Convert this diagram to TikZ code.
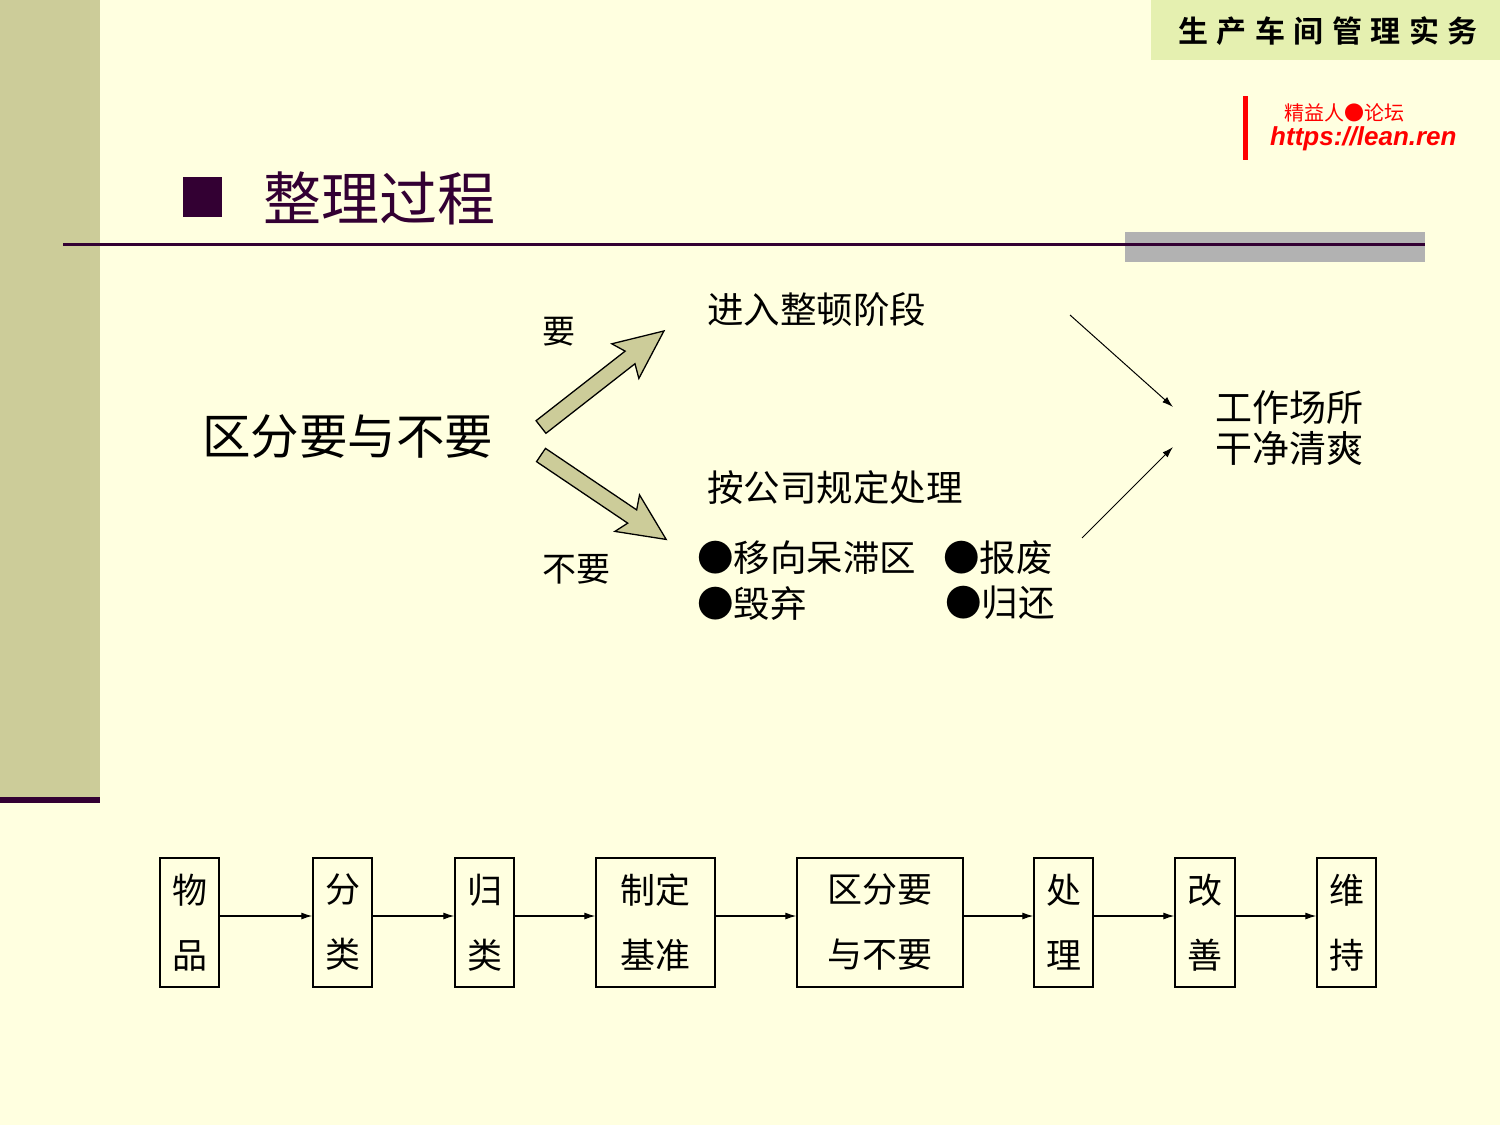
\documentclass[tikz,border=0pt]{standalone}
\usepackage{fontspec}
\newfontfamily\cjk{Noto Sans CJK SC}
\newfontfamily\cjkb{Noto Sans CJK SC Bold}
\newfontfamily\lsans{Liberation Sans}
\usetikzlibrary{arrows.meta}
\definecolor{bg}{RGB}{255,255,224}
\definecolor{khaki}{RGB}{204,204,153}
\definecolor{dpurple}{RGB}{51,0,51}
\definecolor{topbox}{RGB}{229,240,176}
\definecolor{grayb}{RGB}{178,178,178}
\tikzset{
 fs/.style={font=\cjk\fontsize{#1}{#1}\selectfont},
 txt/.style={inner sep=0pt, anchor=west},
 blk/.style={draw=black, line width=1.3pt, fill=khaki},
 thin/.style={-{Latex[length=11pt,width=7pt]}, line width=1pt},
 box/.style={draw=black, line width=1.3pt, fill=bg, minimum height=129pt, inner sep=0pt, align=center},
 flow/.style={-{Latex[length=11pt,width=7pt]}, line width=1.2pt}
}
\begin{document}
\begin{tikzpicture}[x=1pt,y=-1pt]
\fill[bg] (0,0) rectangle (1500,1125);
\useasboundingbox (0,0) rectangle (1500,1125);
\fill[khaki] (0,0) rectangle (100,800);
\fill[dpurple] (0,797) rectangle (100,803);
\fill[topbox] (1151,0) rectangle (1500,60);
\node[txt, font=\cjkb\fontsize{30}{30}\selectfont] (hdr) at (1178,31) {生\hspace{8.5pt}产\hspace{8.5pt}车\hspace{8.5pt}间\hspace{8.5pt}管\hspace{8.5pt}理\hspace{8.5pt}实\hspace{8.5pt}务};
\fill[red] (1243,96) rectangle (1248,160);
\node[txt, fs=20, text=red] (site1) at (1284,113) {精益人●论坛};
\node[txt, text=red, font=\lsans\bfseries\itshape\fontsize{26}{26}\selectfont] (site2) at (1270,139) {https://lean.ren};
\fill[dpurple] (183,177) rectangle (222,217);
\node[txt, fs=58, text=dpurple] (title) at (263,198) {整理过程};
\fill[grayb] (1125,232) rectangle (1425,262);
\draw[dpurple, line width=3pt] (63,244) -- (1425,244);
\node[txt, fs=48.5] (main) at (202,437) {区分要与不要};
\node[txt, fs=33] (yao) at (542,332) {要};
\node[txt, fs=34] (buyao) at (542,569) {不要};
\begin{scope}[shift={(541,427)}, rotate=38]
\draw[blk] (0pt,-8pt)--(113pt,-8pt)--(107pt,-22pt)--(156pt,0pt)--(107pt,22pt)--(113pt,8pt)--(0pt,8pt)--cycle;
\end{scope}
\begin{scope}[shift={(541,455)}, rotate=-34]
\draw[blk] (0pt,-8pt)--(110pt,-8pt)--(104pt,-22pt)--(151pt,0pt)--(104pt,22pt)--(110pt,8pt)--(0pt,8pt)--cycle;
\end{scope}
\node[txt, fs=36.5] (enter) at (707,310) {进入整顿阶段};
\node[txt, fs=36.5] (proc) at (707,488) {按公司规定处理};
\node[txt, fs=36.5] (b1) at (697,558) {●移向呆滞区};
\node[txt, fs=36.5] (b2) at (943,558) {●报废};
\node[txt, fs=36.5] (b3) at (697,603) {●毁弃};
\node[txt, fs=36.5] (b4) at (945,603) {●归还};
\node[txt, fs=37, align=left] (clean) at (1215,428) {工作场所\\[4pt]干净清爽};
\coordinate (a1) at (1070,315); \coordinate (a2) at (1173,407);
\coordinate (c1) at (1082,538); \coordinate (c2) at (1173,447);
\draw[thin] (a1) -- (a2);
\draw[thin] (c1) -- (c2);
\tikzset{bt/.style={fs=35, box}}
\node[bt, minimum width=59pt] (n1) at (189.5,922.5) {物\\[30pt]品};
\node[bt, minimum width=59pt] (n2) at (342.5,922.5) {分\\[30pt]类};
\node[bt, minimum width=59pt] (n3) at (484.5,922.5) {归\\[30pt]类};
\node[bt, minimum width=119pt] (n4) at (655.5,922.5) {制定\\[30pt]基准};
\node[bt, minimum width=166pt] (n5) at (880,922.5) {区分要\\[30pt]与不要};
\node[bt, minimum width=59pt] (n6) at (1063.5,922.5) {处\\[30pt]理};
\node[bt, minimum width=60pt] (n7) at (1205,922.5) {改\\[30pt]善};
\node[bt, minimum width=59pt] (n8) at (1346.5,922.5) {维\\[30pt]持};
\foreach \a/\b in {n1/n2,n2/n3,n3/n4,n4/n5,n5/n6,n6/n7,n7/n8}
 \draw[flow] ([yshift=6.5pt]\a.east) -- ([yshift=6.5pt]\b.west);
\end{tikzpicture}
\end{document}
